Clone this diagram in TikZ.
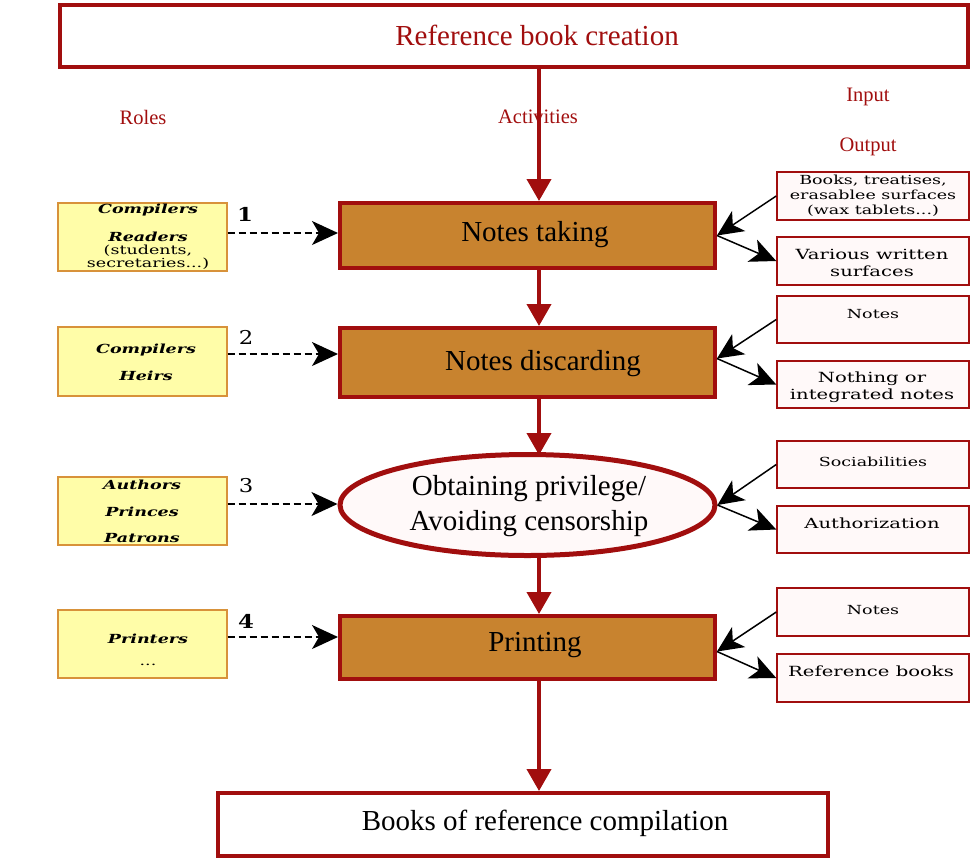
\documentclass[tikz,border=0pt]{standalone}
\usepackage{fontspec}
\setmainfont{Liberation Serif}
\newfontfamily\schfont{DejaVu Serif}
\usepackage{graphicx}
\usetikzlibrary{arrows.meta,shapes.geometric}
\definecolor{dred}{HTML}{A10E0E}
\definecolor{ochre}{HTML}{C8832F}
\definecolor{lyellow}{HTML}{FFFDA8}
\definecolor{yborder}{HTML}{D8923A}
\definecolor{lpink}{HTML}{FFF9F9}
\newcommand{\wide}[1]{\scalebox{1.4}[1]{#1}}
\tikzset{
  framebox/.style={draw=dred, line width=4pt, fill=white, inner sep=0pt},
  activity/.style={draw=dred, line width=4pt, fill=ochre, inner sep=0pt, minimum width=375pt},
  bigtxt/.style={font=\fontsize{29}{32}\selectfont, inner sep=0pt, align=center},
  headtxt/.style={font=\fontsize{20.5}{23}\selectfont, text=dred, inner sep=0pt},
  rolebox/.style={draw=yborder, line width=1.2pt, fill=lyellow, inner sep=0pt, minimum width=169pt, minimum height=68pt},
  roletxt/.style={font=\schfont\fontsize{12.5}{14}\selectfont\bfseries\itshape, inner sep=0pt},
  rolesub/.style={font=\schfont\fontsize{12.5}{14}\selectfont, inner sep=0pt},
  iobox/.style={draw=dred, line width=1.5pt, fill=lpink, inner sep=0pt, minimum width=192pt, minimum height=47pt},
  iotxt/.style={font=\schfont\fontsize{14}{16}\selectfont, inner sep=0pt, align=center},
  smalliotxt/.style={font=\schfont\fontsize{12.5}{15}\selectfont, inner sep=0pt, align=center},
  numtxt/.style={font=\schfont\fontsize{19}{21}\selectfont, inner sep=0pt},
  flow/.style={draw=dred, line width=4pt, -{Triangle[length=22pt,width=24pt]}},
  bhead/.style={-{Stealth[length=26pt 0,width=24pt 0,inset=7pt 0]}},
  ioarrow/.style={draw=black, line width=1.5pt, bhead},
  rolearrow/.style={draw=black, line width=1.5pt, dash pattern=on 7pt off 4pt, bhead}
}
\begin{document}
\begin{tikzpicture}[x=1pt,y=-1pt]
\useasboundingbox (0,0) rectangle (971,860);
% frame boxes
\node[framebox, minimum width=908pt, minimum height=62pt] (top) at (514,35.5) {};
\node[bigtxt, text=dred] (toptxt) at (537,35) {Reference book creation};
\node[framebox, minimum width=610pt, minimum height=63pt] (bot) at (523,824.5) {};
\node[bigtxt] (bottxt) at (545,823) {Books of reference compilation};
% headers
\node[headtxt] (roles) at (143,117) {Roles};
\node[headtxt] (acts) at (538,117) {Activities};
\node[headtxt] (inp) at (868,97) {Input};
\node[headtxt] (outp) at (868,147) {Output};
% activities
\node[activity, minimum height=65pt] (nt) at (527.5,235.5) {};
\node[bigtxt] (nttxt) at (535,235) {Notes taking};
\node[activity, minimum height=69pt] (nd) at (527.5,362.5) {};
\node[bigtxt] (ndtxt) at (543,364) {Notes discarding};
\node[ellipse, draw=dred, line width=5pt, fill=lpink, minimum width=375pt, minimum height=101pt, inner sep=0pt] (op) at (527.5,505) {};
\node[bigtxt] (optxt) at (529,506) {Obtaining privilege/\\[3pt]Avoiding censorship};
\node[activity, minimum height=63pt] (pr) at (527.5,647.5) {};
\node[bigtxt] (prtxt) at (535,645) {Printing};
% spine
\coordinate (spine) at (539,0);
\draw[flow] (top.south -| spine) -- (nt.north -| spine);
\draw[flow] (nt.south -| spine) -- (nd.north -| spine);
\draw[flow] (nd.south -| spine) -- ([yshift=-3pt]op.north -| spine);
\draw[flow] ([yshift=2pt]op.south -| spine) -- (pr.north -| spine);
\draw[flow] (pr.south -| spine) -- (bot.north -| spine);
% role boxes
\node[rolebox] (yb1) at (142.5,237) {};
\node[roletxt] (yb1a) at (148,210) {\wide{Compilers}};
\node[roletxt] (yb1b) at (148,237) {\wide{Readers}};
\node[rolesub] (yb1c) at (148,250.5) {\wide{(students,}};
\node[rolesub] (yb1d) at (148,264) {\wide{secretaries...)}};
\node[rolebox, minimum height=69pt] (yb2) at (142.5,361.5) {};
\node[roletxt] (yb2a) at (146,350) {\wide{Compilers}};
\node[roletxt] (yb2b) at (146,376) {\wide{Heirs}};
\node[rolebox] (yb3) at (142.5,511) {};
\node[roletxt] (yb3a) at (142,485) {\wide{Authors}};
\node[roletxt] (yb3b) at (142,512) {\wide{Princes}};
\node[roletxt] (yb3c) at (142,538) {\wide{Patrons}};
\node[rolebox] (yb4) at (142.5,644) {};
\node[roletxt] (yb4a) at (148,639) {\wide{Printers}};
\node[rolesub] (yb4b) at (148,665) {\wide{...}};
% numbers
\node[numtxt, font=\schfont\fontsize{19}{21}\selectfont\bfseries] (n1) at (245,214) {\scalebox{1.2}[1]{1}};
\node[numtxt] (n2) at (246,337) {\scalebox{1.2}[1]{2}};
\node[numtxt] (n3) at (246,486) {\scalebox{1.2}[1]{3}};
\node[numtxt, font=\schfont\fontsize{19}{21}\selectfont\bfseries] (n4) at (246,621) {\scalebox{1.2}[1]{4}};
% role arrows
\draw[rolearrow] ([yshift=4pt]yb1.east) -- ([yshift=4pt]yb1.east -| nt.west);
\draw[rolearrow] ([yshift=7.5pt]yb2.east) -- ([yshift=7.5pt]yb2.east -| nd.west);
\draw[rolearrow] ([yshift=7pt]yb3.east) -- ([yshift=7pt]yb3.east -| op.west);
\draw[rolearrow] ([yshift=7pt]yb4.east) -- ([yshift=7pt]yb4.east -| pr.west);
% io boxes
\node[iobox, minimum height=48pt] (i1) at (873,196) {};
\node[smalliotxt] (i1t) at (873,196) {\wide{Books, treatises,}\\\wide{erasablee surfaces}\\\wide{(wax tablets...)}};
\node[iobox, minimum height=48pt] (o1) at (873,261) {};
\node[iotxt] (o1t) at (872,262.5) {\wide{Various written}\\[1pt]\wide{surfaces}};
\node[iobox] (i2) at (873,319.5) {};
\node[smalliotxt] (i2t) at (873,314) {\wide{Notes}};
\node[iobox] (o2) at (873,384.5) {};
\node[iotxt] (o2t) at (872,387.5) {\wide{Nothing or}\\[1pt]\wide{integrated notes}};
\node[iobox] (i3) at (873,464.5) {};
\node[smalliotxt] (i3t) at (873,462) {\wide{Sociabilities}};
\node[iobox] (o3) at (873,529.5) {};
\node[iotxt] (o3t) at (872,523) {\wide{Authorization}};
\node[iobox, minimum height=48pt] (i4) at (873,612) {};
\node[smalliotxt] (i4t) at (873,610) {\wide{Notes}};
\node[iobox, minimum height=48pt] (o4) at (873,678) {};
\node[iotxt] (o4t) at (871,671) {\wide{Reference books}};
% io arrows
\draw[ioarrow] (i1.west) -- (nt.east);
\draw[ioarrow] (nt.east) -- (o1.west);
\draw[ioarrow] (i2.west) -- ([yshift=4pt]nd.east);
\draw[ioarrow] ([yshift=4pt]nd.east) -- (o2.west);
\draw[ioarrow] (i3.west) -- (op.east);
\draw[ioarrow] (op.east) -- (o3.west);
\draw[ioarrow] (i4.west) -- ([yshift=-4pt]pr.east);
\draw[ioarrow] ([yshift=-4pt]pr.east) -- (o4.west);
\end{tikzpicture}
\end{document}
